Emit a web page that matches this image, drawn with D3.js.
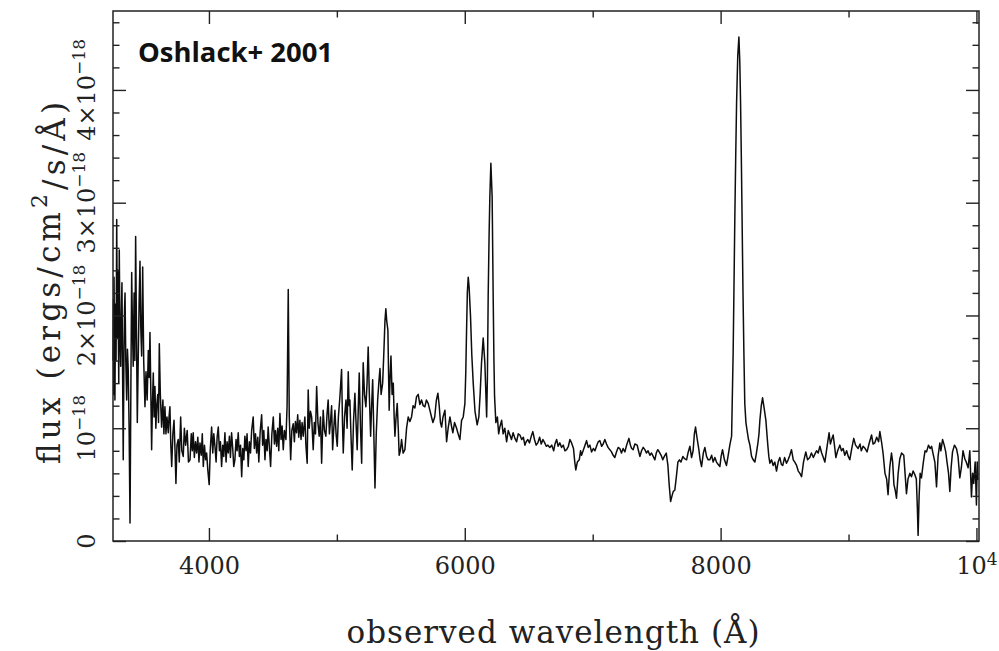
<!DOCTYPE html>
<html><head><meta charset="utf-8">
<script src="https://cdn.jsdelivr.net/npm/d3@7"></script>
<style>body{margin:0;background:#fff}svg{display:block}</style>
</head><body><svg id="c" width="999" height="651"></svg>
<script>
// observed wavelength (Angstrom)
const waveObs=[3250,3254,3256,3258,3262,3265,3270,3274,3279,3284,3288,3291,3295,3299,3304,3310,3315,3320,3325,3330,3336,3340,3344,3350,3357,3363,3369,3376,3383,3390,3396,3402,3408,3415,3421,3427,3434,3440,3447,3454,3461,3467,3474,3478,3482,3490,3500,3508,3517,3526,3533,3539,3546,3552,3558,3565,3571,3578,3585,3591,3600,3606,3612,3620,3630,3640,3648,3656,3664,3672,3682,3688,3695,3702,3709,3718,3727,3735,3742,
3750,3760,3768,3779,3788,3799,3808,3818,3830,3840,3852,3862,3870,3877,3886,3895,3904,3913,3922,3930,3940,3948,3956,3965,3974,3982,3992,4002,4010,4021,4030,4038,4047,4056,4064,4073,4082,4090,4099,4108,4116,4125,4134,4142,4151,4160,4168,4177,4186,4194,4203,4212,4220,4229,4238,4247,4256,4264,4273,4281,4290,4298,4307,4316,4325,4334,4346,4355,4364,4373,4382,4390,4400,4412,4420,4429,4438,4446,4455,4463,4472,4482,4492,4503,4512,4520,4529,4538,4546,4555,4564,4572,4581,4590,4602,4611,4620,4628,4639,4648,4659,4668,4676,4685,4694,4702,4711,
4720,4728,4737,4750,4758,4768,4776,4784,4794,4803,4815,4824,4833,4842,4852,4862,4872,4881,4893,4903,4914,4923,4932,4942,4951,4959,4967,4976,4985,4994,5003,5012,5024,5037,5044,5050,5060,5071,5080,5089,5096,5102,5110,5120,5130,5141,5150,5159,5167,5175,5185,5194,5200,5206,5216,5227,5236,5245,5254,5264,5272,5280,5290,5298,5308,5319,5328,5337,5346,5358,5368,5376,5383,5390,5399,5404,5409,5416,5423,5432,5441,5448,5454,5463,5472,5480,5487,5496,5506,5518,5532,5545,5558,
5571,5584,5596,5610,5623,5636,5649,5662,5675,5688,5700,5714,5727,5740,5751,5765,5778,5790,5800,5810,5819,5830,5845,5858,5870,5884,5896,5907,5920,5936,5948,5962,5975,5988,6001,6008,6014,6020,6027,6034,6045,6055,6066,6080,6097,6110,6120,6131,6144,6157,6171,6177,6183,6190,6196,6204,6214,6222,6228,6233,6243,6255,6265,6274,6288,6300,6313,6327,6340,6353,6365,6378,6392,6405,6418,6431,6445,6458,6470,6480,6493,6506,6520,6532,6545,6558,6571,6585,6598,6611,6625,6637,6650,
6665,6680,6695,6705,6718,6730,6743,6757,6770,6783,6796,6810,6822,6835,6850,6860,6868,6880,6895,6905,6913,6925,6940,6952,6965,6978,6991,7005,7018,7030,7043,7056,7070,7082,7095,7108,7120,7134,7147,7160,7173,7186,7199,7212,7225,7238,7252,7265,7283,7295,7305,7316,7330,7348,7358,7369,7382,7395,7408,7420,7433,7447,7460,7473,7486,7497,7509,7520,7535,7548,7560,7575,7588,7598,7609,7620,7630,7642,7655,7666,7678,7690,7705,7718,7734,7745,7760,7773,7785,7795,7804,7815,7830,7840,7851,7865,7877,7890,7903,7916,7930,7942,7955,7968,7980,7994,8004,8015,8030,8046,8058,8072,8086,
8098,8104,8111,8118,8125,8134,8143,8150,8156,8162,8168,8175,8182,8189,8198,8207,8218,8229,8242,8255,8268,8280,8293,8300,8307,8318,8328,8340,8354,8362,8369,8377,8385,8398,8411,8424,8437,8450,8463,8475,8486,8500,8515,8528,8541,8554,8568,8580,8594,8607,8620,8633,8648,8666,8680,8697,8710,8725,8737,8750,8763,8776,8790,8803,8815,8830,8848,8858,8868,8880,8890,8901,8915,8932,8945,8958,8971,8985,8998,9010,9025,9041,9055,9075,9090,9100,9114,9130,9145,9160,9180,9192,9205,9220,9235,9245,9258,9270,9285,9298,9309,9322,9336,9345,9355,9365,9375,9388,9401,9415,9432,9442,9453,9465,9480,9492,9505,9518,9530,9538,9544,9552,9560,9570,9585,9598,9610,9625,9638,9649,9660,9675,9688,9700,9714,9722,9735,9748,9760,9770,9782,9792,9802,9813,9828,9844,9856,9870,9882,9895,9909,9920,9935,9948,9961,9970,9979,9990,10000,10006,10011];
// flux in units of 1e-18 ergs/cm^2/s/A
const fluxE18=[1.6,2.14,1.30,2.34,1.7,1.25,2.10,1.6,2.85,1.8,2.4,1.99,1.4,2.58,1.9,1.55,2.0,2.29,1.5,0.72,1.7,2.05,2.20,1.6,1.25,1.7,1.52,1.0,0.16,1.4,2.38,1.9,1.55,2.2,1.6,2.70,1.8,1.05,1.6,2.1,2.48,1.9,1.64,2.0,2.43,1.6,1.19,1.5,1.25,1.69,1.45,1.85,1.3,0.81,1.2,1.49,1.1,1.37,1.0,1.19,1.30,1.05,1.75,1.3,1.01,1.25,0.95,1.19,0.95,1.10,0.96,1.10,1.19,0.85,0.66,0.95,1.07,0.80,0.51,
0.85,0.90,0.70,1.10,0.80,0.75,1.00,0.85,0.98,0.70,0.72,0.95,0.80,0.96,0.74,0.88,0.78,0.92,0.70,0.87,0.76,0.95,0.66,0.85,0.72,0.78,0.62,0.50,0.80,1.01,0.78,0.95,0.84,0.70,0.92,1.01,0.80,0.88,0.66,0.85,0.75,0.96,0.70,0.88,0.78,0.93,0.74,0.96,0.82,0.66,0.72,0.90,0.80,0.96,0.75,0.85,0.57,0.82,0.72,0.93,0.80,0.95,0.66,0.88,0.78,0.98,1.10,0.82,0.95,0.78,0.92,0.70,0.96,1.12,0.85,0.98,0.72,0.90,0.80,1.01,0.84,0.66,0.95,1.10,0.86,0.98,0.84,1.00,0.80,1.13,0.90,1.02,0.81,0.98,0.90,1.20,2.23,1.10,0.72,0.98,1.04,0.88,1.06,0.96,1.12,0.92,1.07,
0.90,1.05,0.93,1.10,0.85,0.69,1.34,1.00,1.15,1.10,0.81,1.05,0.95,1.37,1.05,0.93,1.10,0.69,1.16,0.98,0.93,1.12,1.25,0.95,1.07,1.20,0.81,1.00,1.16,0.95,0.84,1.10,1.28,1.52,1.05,0.78,1.10,1.25,1.00,1.50,1.20,1.25,0.95,0.63,1.05,1.31,1.05,0.81,1.15,1.49,1.00,0.69,1.20,1.58,1.30,1.19,1.40,1.72,1.30,0.93,1.20,1.43,0.90,0.47,0.95,1.25,1.40,1.53,1.30,1.40,1.69,1.95,2.06,1.95,1.87,1.50,1.16,1.45,1.64,1.30,1.40,1.10,0.93,1.10,1.22,1.00,0.76,0.80,0.90,0.78,0.81,1.00,1.10,
1.06,1.10,1.20,1.18,1.28,1.30,1.21,1.25,1.20,1.19,1.25,1.22,1.16,1.10,1.05,1.10,1.25,1.31,1.20,1.05,1.01,1.10,1.16,0.88,1.00,1.10,1.02,0.96,1.05,1.00,0.95,0.90,1.07,1.10,1.22,1.50,1.87,2.20,2.34,2.25,1.99,1.65,1.40,1.15,1.03,1.10,1.30,1.58,1.80,1.58,1.10,1.45,2.17,2.70,3.05,3.35,3.05,2.17,1.60,1.28,1.05,1.10,0.95,1.01,1.07,0.95,1.00,0.88,0.98,0.94,0.90,0.96,0.91,0.88,0.95,0.94,0.90,0.92,0.85,0.88,0.90,0.87,0.93,0.97,0.90,0.85,0.87,0.92,0.86,0.90,0.87,0.84,0.85,
0.83,0.85,0.80,0.86,0.90,0.84,0.87,0.83,0.85,0.80,0.81,0.84,0.90,0.87,0.82,0.70,0.63,0.70,0.72,0.80,0.76,0.80,0.85,0.89,0.83,0.85,0.79,0.82,0.80,0.84,0.88,0.89,0.84,0.86,0.90,0.86,0.83,0.81,0.79,0.76,0.74,0.79,0.83,0.82,0.78,0.82,0.79,0.85,0.91,0.85,0.82,0.81,0.86,0.85,0.80,0.75,0.80,0.83,0.81,0.78,0.80,0.76,0.78,0.75,0.72,0.78,0.81,0.79,0.76,0.72,0.75,0.78,0.67,0.50,0.35,0.40,0.44,0.45,0.58,0.70,0.72,0.70,0.75,0.73,0.72,0.78,0.84,0.74,0.80,0.95,1.01,0.92,0.81,0.72,0.66,0.78,0.83,0.75,0.72,0.72,0.76,0.70,0.74,0.70,0.68,0.66,0.75,0.81,0.72,0.67,0.75,0.85,0.93,
1.67,2.20,2.85,3.40,3.89,4.30,4.47,4.25,3.89,3.40,2.85,2.20,1.67,1.22,1.05,0.98,0.90,0.85,0.75,0.72,0.70,0.78,0.88,0.95,1.07,1.20,1.27,1.18,1.07,0.95,0.85,0.75,0.69,0.72,0.67,0.70,0.62,0.70,0.74,0.68,0.67,0.74,0.69,0.72,0.76,0.81,0.72,0.70,0.67,0.62,0.60,0.57,0.70,0.79,0.72,0.74,0.78,0.74,0.77,0.80,0.78,0.84,0.78,0.74,0.70,0.82,0.96,0.86,0.90,0.94,0.85,0.74,0.80,0.85,0.80,0.82,0.76,0.80,0.75,0.72,0.82,0.91,0.85,0.82,0.86,0.80,0.84,0.82,0.79,0.86,0.94,0.86,0.87,0.92,0.88,0.97,0.88,0.78,0.60,0.55,0.41,0.65,0.78,0.70,0.50,0.45,0.38,0.60,0.73,0.78,0.76,0.60,0.42,0.55,0.60,0.57,0.62,0.59,0.55,0.30,0.05,0.40,0.60,0.56,0.70,0.80,0.79,0.85,0.82,0.84,0.78,0.70,0.48,0.75,0.87,0.80,0.90,0.85,0.79,0.70,0.60,0.44,0.65,0.79,0.85,0.82,0.75,0.56,0.65,0.80,0.73,0.70,0.65,0.80,0.39,0.60,0.51,0.70,0.32,0.70,0.54];

const xMajorTicks=[4000,6000,8000,10000];
const xMajorLabels=["4000","6000","8000","10"];
const xMinorTicks=[5000,7000,9000];
const yMajorTicks=[0,1,2,3,4];
const yMantissa=["0","","2×","3×","4×"];
const yExponent="−18";
const yMinorTicks=[0.2,0.4,0.6,0.8,1.2,1.4,1.6,1.8,2.2,2.4,2.6,2.8,3.2,3.4,3.6,3.8,4.2,4.4,4.6];
const titleText="Oshlack+ 2001";
const xTitle="observed wavelength (Å)";

const svg=d3.select("#c");
const L=113,R=979,T=11,B=541;
const x=d3.scaleLinear().domain([3250,10020]).range([L,R]);
const y=d3.scaleLinear().domain([0,4.7]).range([B,T]);
const ink="#222";
const serif="'DejaVu Serif', serif";

svg.append("rect").attr("width",999).attr("height",651).attr("fill","#fff");

// spectrum
const pts=waveObs.map((w,i)=>[w,fluxE18[i]]);
svg.append("path").datum(pts)
  .attr("fill","none").attr("stroke","#0d0d0d").attr("stroke-width",1.5).attr("stroke-linejoin","round")
  .attr("d",d3.line().x(d=>x(d[0])).y(d=>y(d[1])));

function styleAxis(g){g.select(".domain").remove();g.selectAll("line").attr("stroke",ink).attr("stroke-width",1.4);}
// x axes
const bx=svg.append("g").attr("transform",`translate(0,${B})`)
  .call(d3.axisBottom(x).tickValues(xMajorTicks).tickSizeInner(-13).tickSizeOuter(0).tickPadding(16)
    .tickFormat((d,i)=>xMajorLabels[i])).call(styleAxis);
bx.selectAll("text").attr("font-family",serif).attr("font-size",24).attr("fill",ink);
bx.selectAll("text").filter(d=>d===10000).append("tspan").attr("dy","-0.55em").attr("font-size",17).text("4");
svg.append("g").attr("transform",`translate(0,${B})`)
  .call(d3.axisBottom(x).tickValues(xMinorTicks).tickSize(-6.5).tickFormat("")).call(styleAxis);
svg.append("g").attr("transform",`translate(0,${T})`)
  .call(d3.axisTop(x).tickValues(xMajorTicks).tickSize(-13).tickFormat("")).call(styleAxis);
svg.append("g").attr("transform",`translate(0,${T})`)
  .call(d3.axisTop(x).tickValues(xMinorTicks).tickSize(-6.5).tickFormat("")).call(styleAxis);
// y axes
svg.append("g").attr("transform",`translate(${L},0)`)
  .call(d3.axisLeft(y).tickValues(yMajorTicks).tickSize(-13).tickFormat("")).call(styleAxis);
svg.append("g").attr("transform",`translate(${L},0)`)
  .call(d3.axisLeft(y).tickValues(yMinorTicks).tickSize(-6.5).tickFormat("")).call(styleAxis);
svg.append("g").attr("transform",`translate(${R},0)`)
  .call(d3.axisRight(y).tickValues(yMajorTicks).tickSize(-13).tickFormat("")).call(styleAxis);
svg.append("g").attr("transform",`translate(${R},0)`)
  .call(d3.axisRight(y).tickValues(yMinorTicks).tickSize(-6.5).tickFormat("")).call(styleAxis);

// frame
svg.append("rect").attr("x",L).attr("y",T).attr("width",R-L).attr("height",B-T)
  .attr("fill","none").attr("stroke",ink).attr("stroke-width",1.5);

// y tick labels (rotated)
const yl=svg.append("g").selectAll("text").data(yMajorTicks).join("text")
  .attr("transform",d=>`translate(95,${y(d)}) rotate(-90)`)
  .attr("text-anchor","middle").attr("font-family",serif).attr("font-size",24).attr("fill",ink);
yl.each(function(d,i){
  const t=d3.select(this);
  if(d===0){t.text(yMantissa[i]);return;}
  t.append("tspan").text(yMantissa[i]+"10");
  t.append("tspan").attr("dy","-0.6em").attr("font-size",17).text(yExponent);
});

// axis titles
svg.append("text").attr("x",553).attr("y",643).attr("text-anchor","middle")
  .attr("font-family",serif).attr("font-size",31).attr("fill",ink)
  .attr("textLength",413).attr("lengthAdjust","spacing").text(xTitle);
const yt=svg.append("text").attr("transform","translate(60,283) rotate(-90)").attr("text-anchor","middle")
  .attr("font-family",serif).attr("font-size",31).attr("fill",ink)
  .attr("textLength",362).attr("lengthAdjust","spacing");
yt.append("tspan").text("flux (ergs/cm");
yt.append("tspan").attr("dy","-0.6em").attr("font-size",22).text("2");
yt.append("tspan").attr("dy","0.6em").text("/s/Å)");

// label
svg.append("text").attr("x",138).attr("y",62).attr("font-family","'Open Sans', 'Noto Sans', sans-serif")
  .attr("font-weight",700).attr("font-size",26).attr("fill","#111")
  .attr("textLength",195).attr("lengthAdjust","spacingAndGlyphs").text(titleText);
</script></body></html>
